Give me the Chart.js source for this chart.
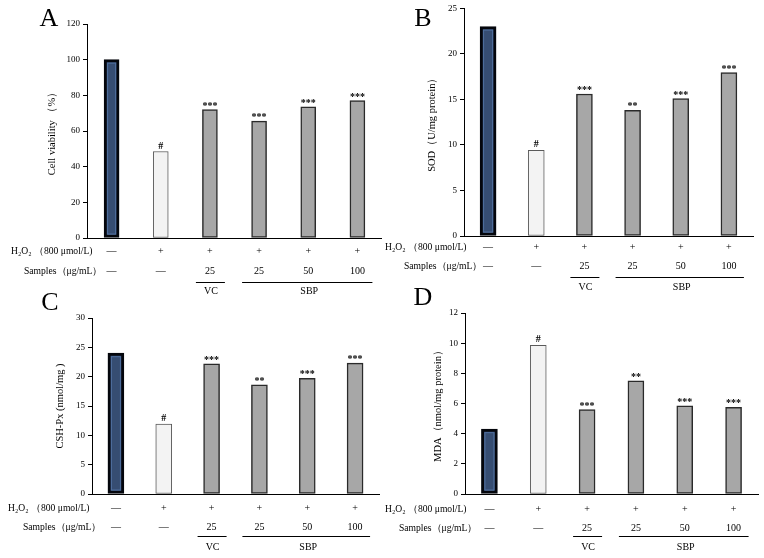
<!DOCTYPE html>
<html><head><meta charset="utf-8">
<script src="https://cdn.jsdelivr.net/npm/chart.js@4"></script>
<style>
html,body{margin:0;padding:0;background:#fff;}
#wrap{position:relative;width:764px;height:558px;overflow:hidden;background:#fff;}
canvas{position:absolute;}
</style></head><body>
<div id="wrap">
<canvas id="cA" width="382" height="300" style="left:0;top:0"></canvas>
<canvas id="cB" width="382" height="300" style="left:382px;top:0"></canvas>
<canvas id="cC" width="382" height="276" style="left:0;top:282px"></canvas>
<canvas id="cD" width="382" height="276" style="left:382px;top:282px"></canvas>
</div>
<script>
// ---- data ----
const categories = ['Control', 'H2O2', 'VC 25', 'SBP 25', 'SBP 50', 'SBP 100'];
const rowLabels = ['H\u2082O\u2082 \uFF08800 \u03BCmol/L)', 'Samples\uFF08\u03BCg/mL\uFF09'];
const h2o2Row = ['\u2014', '+', '+', '+', '+', '+'];
const samplesRow = ['\u2014', '\u2014', '25', '25', '50', '100'];
const groupLabels = ['VC', 'SBP'];
const groupStart = [2, 3];
const groupEnd = [2, 5];

const cellViability = [100, 48.5, 72, 65.5, 73.5, 77];
const sod = [23, 9.4, 15.6, 13.8, 15.1, 17.95];
const gshPx = [24, 11.9, 22.2, 18.6, 19.7, 22.3];
const mda = [4.3, 9.85, 5.6, 7.5, 5.85, 5.75];

const sigA = ['', '#', '***', '***', '***', '***'];
const sigB = ['', '#', '***', '**', '***', '***'];
const sigC = ['', '#', '***', '**', '***', '***'];
const sigD = ['', '#', '***', '**', '***', '***'];

const yTicksA = [0, 20, 40, 60, 80, 100, 120];
const yTicksB = [0, 5, 10, 15, 20, 25];
const yTicksC = [0, 5, 10, 15, 20, 25, 30];
const yTicksD = [0, 2, 4, 6, 8, 10, 12];

const titleA = 'Cell viability \uFF08%\uFF09';
const titleB = 'SOD\uFF08U/mg protein\uFF09';
const titleC = 'CSH-Px (nmol/mg )';
const titleD = 'MDA\uFF08nmol/mg protein\uFF09';

// ---- styles ----
const SERIF = '"Liberation Serif", "Times New Roman", "DejaVu Serif", serif';
const fills = ['#364d72', '#f3f3f3', '#a7a7a7', '#a7a7a7', '#a7a7a7', '#a7a7a7'];
const borders = ['#04060c', '#5a5a5a', '#2a2a2a', '#2a2a2a', '#2a2a2a', '#2a2a2a'];
const bWidths = [3, 1, 1.5, 1.5, 1.5, 1.5];

const annotPlugin = {
  id: 'annot',
  afterDatasetsDraw(chart) {
    // inner highlight of the first (control) bar
    const bar = chart.getDatasetMeta(0).data[0];
    const ctx = chart.ctx;
    const w = bar.width;
    const top = Math.min(bar.y, bar.base), bot = Math.max(bar.y, bar.base);
    ctx.save();
    ctx.strokeStyle = '#4f6f9e';
    ctx.lineWidth = 1;
    ctx.strokeRect(bar.x - w / 2 + 3.5, top + 3.5, w - 7, bot - top - 7);
    ctx.restore();
  },
  afterDraw(chart, args, o) {
    const ctx = chart.ctx;
    const xs = chart.scales.x;
    const meta = chart.getDatasetMeta(0);
    const c = i => xs.getPixelForValue(i);
    ctx.save();
    ctx.fillStyle = '#000';
    // panel letter
    ctx.font = '26px ' + SERIF;
    ctx.textAlign = 'center';
    ctx.textBaseline = 'middle';
    ctx.fillText(o.letter, o.letterX, o.letterY);
    // significance marks
    ctx.font = 'bold 10px ' + SERIF;
    ctx.textBaseline = 'alphabetic';
    meta.data.forEach((bar, i) => {
      const s = o.sig[i];
      if (!s) return;
      ctx.fillText(s, bar.x, s === '#' ? bar.y - 3 : bar.y - 1);
    });
    // row labels
    ctx.font = '9.6px ' + SERIF;
    ctx.textAlign = 'left';
    ctx.textBaseline = 'middle';
    ctx.fillText(rowLabels[0], o.hX, o.hY);
    ctx.fillText(rowLabels[1], o.sX, o.sY);
    // row values
    ctx.font = '10px ' + SERIF;
    ctx.textAlign = 'center';
    h2o2Row.forEach((t, i) => ctx.fillText(t, c(i), o.hY));
    samplesRow.forEach((t, i) => ctx.fillText(t, c(i), o.sY));
    // group underlines and labels
    ctx.strokeStyle = '#000';
    ctx.lineWidth = 1;
    groupLabels.forEach((g, k) => {
      const x0 = c(groupStart[k]) - (groupStart[k] === groupEnd[k] ? 14 : 17);
      const x1 = c(groupEnd[k]) + 15;
      ctx.beginPath();
      ctx.moveTo(x0, o.lineY + 0.5);
      ctx.lineTo(x1, o.lineY + 0.5);
      ctx.stroke();
      ctx.fillText(g, (c(groupStart[k]) + c(groupEnd[k])) / 2 + 1, o.gY);
    });
    ctx.restore();
  }
};

function makeChart(id, values, yTicks, title, sig, pad, yWidth, barW, ann) {
  const step = yTicks[1] - yTicks[0];
  return new Chart(document.getElementById(id), {
    type: 'bar',
    data: {
      labels: categories,
      datasets: [{
        data: values,
        backgroundColor: fills,
        borderColor: borders,
        borderWidth: bWidths,
        borderSkipped: false,
        barThickness: barW
      }]
    },
    plugins: [annotPlugin],
    options: {
      responsive: false,
      animation: false,
      layout: { padding: pad },
      plugins: {
        legend: { display: false },
        tooltip: { enabled: false },
        annot: Object.assign({ sig: sig }, ann)
      },
      scales: {
        x: {
          type: 'category',
          ticks: { display: false },
          grid: { display: false },
          border: { display: true, color: '#000', width: 1 },
          afterFit: s => { s.height = 0; }
        },
        y: {
          min: yTicks[0],
          max: yTicks[yTicks.length - 1],
          ticks: { stepSize: step, color: '#000', padding: 3, font: { family: SERIF, size: 9 } },
          grid: { display: true, drawOnChartArea: false, drawTicks: true, tickLength: 4, color: '#000' },
          border: { display: true, color: '#000', width: 1 },
          title: { display: true, text: title, color: '#000', font: { family: SERIF, size: 10.5 }, padding: { top: 0, bottom: 2 } },
          afterFit: s => { s.width = yWidth; }
        }
      }
    }
  });
}

makeChart('cA', cellViability, yTicksA, titleA, sigA,
  { left: 46, top: 24, right: 0, bottom: 62 }, 41, 15,
  { letter: 'A', letterX: 49, letterY: 19, hX: 11, hY: 251, sX: 24, sY: 271, lineY: 282, gY: 291 });
makeChart('cB', sod, yTicksB, titleB, sigB,
  { left: 44, top: 8, right: 11, bottom: 64 }, 38, 16,
  { letter: 'B', letterX: 41, letterY: 19, hX: 3, hY: 247, sX: 22, sY: 266, lineY: 277, gY: 287 });
makeChart('cC', gshPx, yTicksC, titleC, sigC,
  { left: 54, top: 36, right: 3, bottom: 64 }, 38, 16,
  { letter: 'C', letterX: 50, letterY: 21, hX: 8, hY: 226, sX: 23, sY: 245, lineY: 254, gY: 265 });
makeChart('cD', mda, yTicksD, titleD, sigD,
  { left: 50, top: 31, right: 6, bottom: 64 }, 33, 16,
  { letter: 'D', letterX: 41, letterY: 16, hX: 3, hY: 227, sX: 17, sY: 246, lineY: 254, gY: 265 });
</script>
</body></html>
